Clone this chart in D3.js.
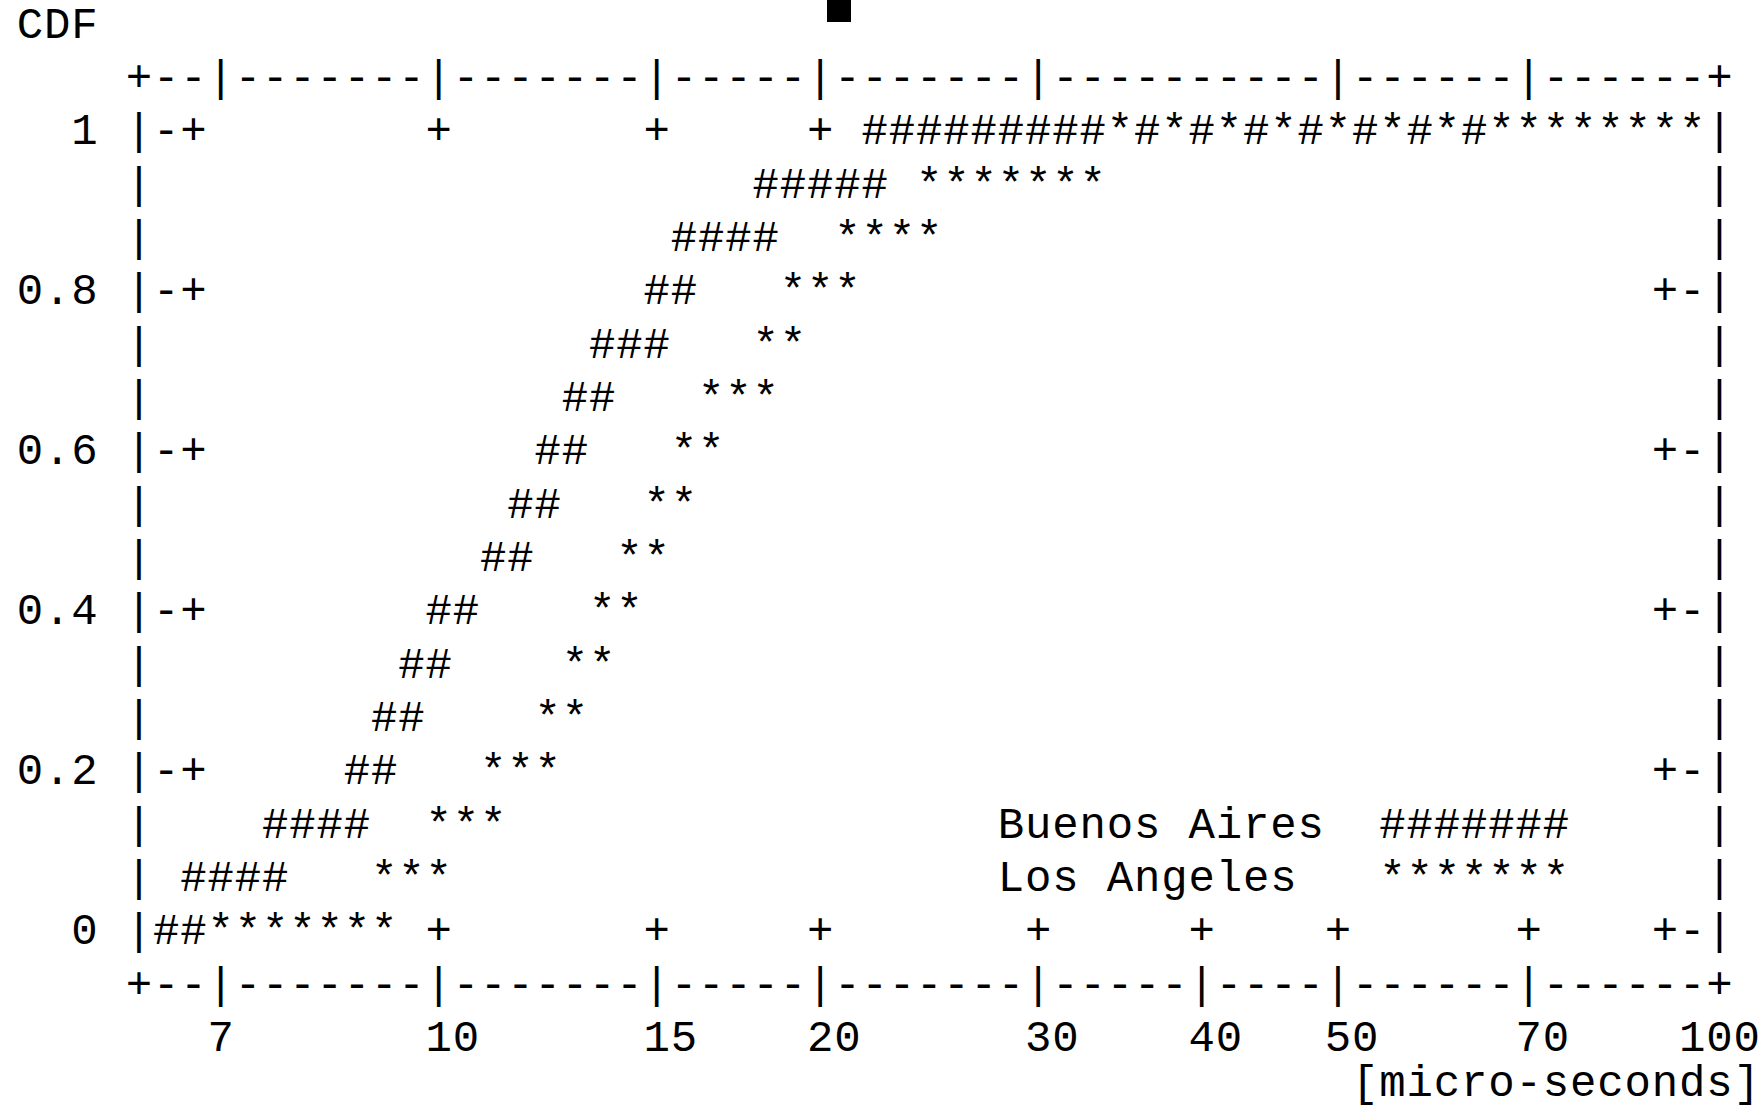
<!DOCTYPE html>
<html>
<head>
<meta charset="utf-8">
<script src="https://cdn.jsdelivr.net/npm/d3@7"></script>
<style>
  body { margin: 0; background: #fff; }
  text { font-family: "Liberation Mono", "DejaVu Sans Mono", monospace; fill: #000; }
</style>
</head>
<body>
<svg id="chart"></svg>
<script>
// Series: for each CDF step, the latency span (micro-seconds) the curve covers
const seriesNames = ["Buenos Aires", "Los Angeles"];
const seriesChars = ["#", "*"];

const cdfLevels = [0, 0.067, 0.133, 0.2, 0.267, 0.333, 0.4, 0.467, 0.533, 0.6, 0.667, 0.733, 0.8, 0.867, 0.933, 1];

const baFrom = [6.2, 6.5, 7.6, 8.8, 9.2, 9.7, 10.2, 11.2, 11.8, 12.3, 13.0, 13.6, 15.0, 15.7, 18.2, 22.2];
const baTo   = [6.5, 7.6, 8.8, 9.2, 9.7, 10.2, 10.6, 11.8, 12.3, 13.0, 13.6, 15.0, 15.7, 18.2, 22.2, 64.8];

const laFrom = [6.9, 9.2, 10.2, 11.2, 12.3, 13.0, 13.6, 14.3, 15.0, 15.7, 16.5, 18.2, 19.1, 21.1, 24.4, 34.4];
const laTo   = [9.2, 10.2, 11.2, 12.3, 13.0, 13.6, 14.3, 15.0, 15.7, 16.5, 18.2, 19.1, 21.1, 24.4, 32.7, 95.7];

// Axis ticks
const xTicks = [7, 10, 15, 20, 30, 40, 50, 70, 100];
const xTickLabels = ["7", "10", "15", "20", "30", "40", "50", "70", "100"];
const topTicks = [7, 10, 15, 20, 30, 50, 70];   // mirrored ticks that show on the top border
const topMarks = [10, 15, 20, 30, 50, 70];
const yTicks = [0, 0.2, 0.4, 0.6, 0.8, 1];
const yTickLabels = ["0", "0.2", "0.4", "0.6", "0.8", "1"];

const width = 1764, height = 1110;
const cw = 27.25;      // character cell width
const rh = 53.33;      // character cell height
const col0 = 139;      // centre of the left border column
const row0 = 129.8;    // centre of the CDF = 1 row
const fs = 44;
const baseOff = fs * 0.33;

const svg = d3.select("#chart")
  .attr("width", width)
  .attr("height", height)
  .attr("viewBox", [0, 0, width, height]);

// dumb-terminal style scales: value -> character cell
const x = d3.scaleLog().domain([5.79, 100]).range([0, 58.4]);
const y = d3.scaleLinear().domain([0, 1]).range([15, 0]);
const xCol = v => Math.floor(x(v));
const yRow = v => Math.round(y(v));
const px = c => col0 + c * cw;
const py = r => row0 + r * rh;

const lastCol = xCol(100);
const lastRow = yRow(0);

const grid = new Map();
function put(r, c, ch) {
  if (!grid.has(r)) grid.set(r, new Map());
  grid.get(r).set(c, ch);
}
function get(r, c) {
  return grid.has(r) ? grid.get(r).get(c) : undefined;
}

// Border
for (let c = 0; c <= lastCol; c++) {
  put(-1, c, "-");
  put(lastRow + 1, c, "-");
}
[-1, lastRow + 1].forEach(r => { put(r, 0, "+"); put(r, lastCol, "+"); });
for (let r = 0; r <= lastRow; r++) {
  put(r, 0, "|");
  put(r, lastCol, "|");
}

// X ticks
xTicks.forEach(v => {
  const c = xCol(v);
  if (c <= 0 || c >= lastCol) return;
  put(lastRow + 1, c, "|");
  put(lastRow, c, "+");
});
topTicks.forEach(v => put(-1, xCol(v), "|"));
topMarks.forEach(v => put(0, xCol(v), "+"));

// Y ticks
yTicks.forEach(v => {
  const r = yRow(v);
  put(r, 1, "-"); put(r, 2, "+");
  put(r, lastCol - 2, "+"); put(r, lastCol - 1, "-");
});

// Data
function drawSeries(from, to, ch) {
  cdfLevels.forEach((p, i) => {
    const r = yRow(p);
    let overlapStart = null;
    for (let c = xCol(from[i]); c <= xCol(to[i]); c++) {
      const prev = get(r, c);
      if (prev === "#" || prev === "*") {
        // both curves on the same cell: the terminal alternates them
        if (overlapStart === null) overlapStart = c;
        if ((c - overlapStart) % 2 === 0) put(r, c, ch);
      } else {
        put(r, c, ch);
      }
    }
  });
}
drawSeries(baFrom, baTo, seriesChars[0]);
drawSeries(laFrom, laTo, seriesChars[1]);

// Legend samples
const legendCol = 32, sampleCol = 46, sampleLen = 7;
seriesChars.forEach((ch, i) => {
  for (let k = 0; k < sampleLen; k++) put(13 + i, sampleCol + k, ch);
});

// Render grid: one text per run of adjacent cells, one x per glyph
const runs = [];
grid.forEach((cells, r) => {
  const cols = Array.from(cells.keys()).sort((a, b) => a - b);
  let cur = null;
  cols.forEach(c => {
    if (cur && c === cur.cols[cur.cols.length - 1] + 1) {
      cur.cols.push(c);
      cur.text += cells.get(c);
    } else {
      cur = { r, cols: [c], text: cells.get(c) };
      runs.push(cur);
    }
  });
});

svg.append("g")
  .selectAll("text")
  .data(runs)
  .join("text")
  .attr("x", d => d.cols.map(px).join(" "))
  .attr("y", d => py(d.r) + baseOff)
  .attr("text-anchor", "middle")
  .attr("font-size", fs)
  .text(d => d.text);

// Labels
const labels = [];
yTicks.forEach((v, i) => {
  const s = yTickLabels[i];
  labels.push({ s, r: yRow(v), c: -1 - s.length });
});
xTicks.forEach((v, i) => {
  const s = xTickLabels[i];
  labels.push({ s, r: lastRow + 2, c: xCol(v) - Math.floor((s.length - 1) / 2) });
});
labels.push({ s: "CDF", r: -2, c: -4 });
labels.push({ s: "[micro-seconds]", r: lastRow + 3, c: xCol(100) + 2 - 15, dy: -8 });
seriesNames.forEach((s, i) => labels.push({ s, r: 13 + i, c: legendCol }));

svg.append("g")
  .selectAll("text")
  .data(labels)
  .join("text")
  .attr("x", d => Array.from(d.s, (_, k) => px(d.c + k)).join(" "))
  .attr("y", d => py(d.r) + baseOff + (d.dy || 0))
  .attr("text-anchor", "middle")
  .attr("font-size", fs)
  .attr("xml:space", "preserve")
  .text(d => d.s);

// terminal cursor block at the top of the capture
svg.append("rect")
  .attr("x", 827)
  .attr("y", 0)
  .attr("width", 24)
  .attr("height", 22)
  .attr("fill", "#000");
</script>
</body>
</html>
